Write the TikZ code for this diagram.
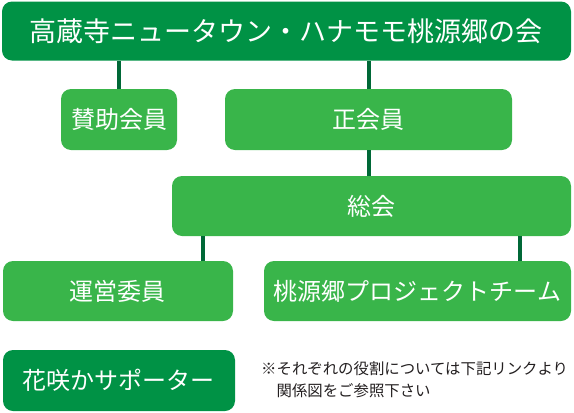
\documentclass[tikz,border=0pt]{standalone}
\usepackage{fontspec}
\usepackage{xcolor}
\usetikzlibrary{positioning}
\newfontfamily\jpfont{Noto Sans CJK JP}
\definecolor{cDark}{HTML}{009245}
\definecolor{cLight}{HTML}{39B54A}
\definecolor{cLine}{HTML}{006837}
\definecolor{cText}{HTML}{231F20}
\tikzset{
  darkbox/.style ={fill=cDark, rounded corners=10pt, text=white, inner sep=0pt, font=\jpfont\fontsize{24}{28}\selectfont},
  lightbox/.style={fill=cLight, rounded corners=10pt, text=white, inner sep=0pt, font=\jpfont\fontsize{24}{28}\selectfont},
  link/.style={line width=4pt, draw=cLine},
}

\begin{document}
\begin{tikzpicture}[x=1pt,y=-1pt]
        \useasboundingbox (0,0) rectangle (574,413);
        \node[darkbox, minimum width=569pt, minimum height=59pt, font=\jpfont\fontsize{27}{30}\selectfont] (title) at (286.5,31){高蔵寺ニュータウン・ハナモモ桃源郷の会};
        \node[lightbox, minimum width=116pt, minimum height=61pt] (sanjo) at (119,119.5){賛助会員};
        \node[lightbox, minimum width=287pt, minimum height=61pt] (sei) at (368.5,119.5){正会員};
        \node[lightbox, minimum width=399pt, minimum height=60pt] (soukai) at (371.5,206){総会};
        \node[lightbox, minimum width=230pt, minimum height=60pt] (unei) at (118,291){運営委員};
        \node[lightbox, minimum width=307pt, minimum height=60pt] (momo) at (417.5,291){桃源郷プロジェクトチーム};
        \node[darkbox, minimum width=232pt, minimum height=61pt] (hanasaki) at (119,380.5){花咲かサポーター};
        \node[anchor=west, inner sep=0pt, align=left, text=cText, font=\jpfont\fontsize{15.4}{22}\selectfont] (note) at (261,380){※それぞれの役割については下記リンクより\\\hspace*{1em}関係図をご参照下さい};
        % connectors
        \draw[link] (sanjo.north) -- (sanjo.north |- title.south);
        \draw[link] (sei.north) -- (sei.north |- title.south);
        \draw[link] (sei.south) -- (sei.south |- soukai.north);
        \draw[link] ([xshift=85pt]unei.north) -- ([xshift=85pt]unei.north |- soukai.south);
        \draw[link] ([xshift=102.5pt]momo.north) -- ([xshift=102.5pt]momo.north |- soukai.south);
\end{tikzpicture}
\end{document}
